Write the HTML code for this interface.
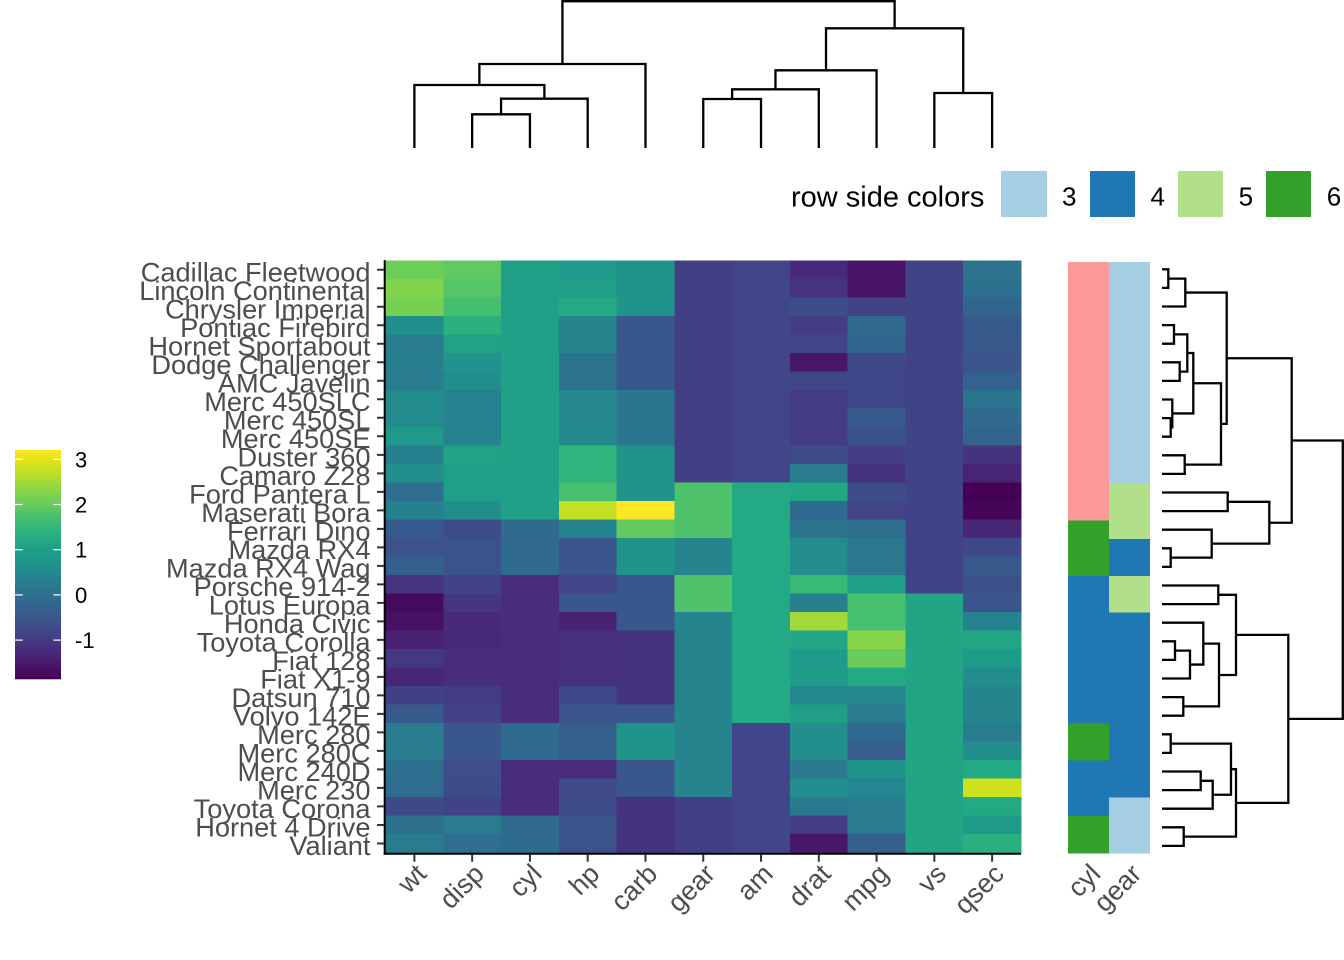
<!DOCTYPE html>
<html><head><meta charset="utf-8">
<style>
html,body{margin:0;padding:0;background:#fff;}
svg{display:block;}
text{font-family:"Liberation Sans",Arial,sans-serif;}
.rl{font-size:27.2px;fill:#4d4d4d;text-anchor:end;}
.cl{font-size:26.9px;fill:#4d4d4d;text-anchor:end;}
.lg{font-size:26px;fill:#000;}
.cb{font-size:22px;fill:#000;}
</style></head><body>
<svg id="s" width="1344" height="960" viewBox="0 0 1344 960" xmlns="http://www.w3.org/2000/svg">
<defs>
<linearGradient id="vg" x1="0" y1="1" x2="0" y2="0">
<stop offset="0" stop-color="#440154"/><stop offset="0.05" stop-color="#471365"/>
<stop offset="0.1" stop-color="#482475"/><stop offset="0.15" stop-color="#463480"/>
<stop offset="0.2" stop-color="#414487"/><stop offset="0.25" stop-color="#3b528b"/>
<stop offset="0.3" stop-color="#355f8d"/><stop offset="0.35" stop-color="#2f6c8e"/>
<stop offset="0.4" stop-color="#2a788e"/><stop offset="0.45" stop-color="#25848e"/>
<stop offset="0.5" stop-color="#21918c"/><stop offset="0.55" stop-color="#1e9c89"/>
<stop offset="0.6" stop-color="#22a884"/><stop offset="0.65" stop-color="#2fb47c"/>
<stop offset="0.7" stop-color="#44bf70"/><stop offset="0.75" stop-color="#5ec962"/>
<stop offset="0.8" stop-color="#7ad151"/><stop offset="0.85" stop-color="#9bd93c"/>
<stop offset="0.9" stop-color="#bddf26"/><stop offset="0.95" stop-color="#dfe318"/>
<stop offset="1" stop-color="#fde725"/>
</linearGradient>
</defs>
<rect width="1344" height="960" fill="#fff"/>
<g id="cells" shape-rendering="crispEdges"></g>
<g id="side" shape-rendering="crispEdges"></g>
<g id="lines"></g>

<!-- colorbar -->
<rect x="15" y="450" width="46" height="229.3" fill="url(#vg)"/>
<g stroke="#fff" stroke-width="1.2">
<line x1="15" y1="459.3" x2="22.7" y2="459.3"/><line x1="53.3" y1="459.3" x2="61" y2="459.3"/>
<line x1="15" y1="504.5" x2="22.7" y2="504.5"/><line x1="53.3" y1="504.5" x2="61" y2="504.5"/>
<line x1="15" y1="549.7" x2="22.7" y2="549.7"/><line x1="53.3" y1="549.7" x2="61" y2="549.7"/>
<line x1="15" y1="594.9" x2="22.7" y2="594.9"/><line x1="53.3" y1="594.9" x2="61" y2="594.9"/>
<line x1="15" y1="640.1" x2="22.7" y2="640.1"/><line x1="53.3" y1="640.1" x2="61" y2="640.1"/>
</g>
<text class="cb" x="75" y="467.3">3</text>
<text class="cb" x="75" y="512.5">2</text>
<text class="cb" x="75" y="557.7">1</text>
<text class="cb" x="75" y="602.9">0</text>
<text class="cb" x="75" y="648.1">-1</text>

<!-- legend -->
<text x="791" y="206.5" style="font-size:29px;fill:#000;">row side colors</text>
<rect x="1001" y="171" width="46" height="46" fill="#a6cee3"/>
<rect x="1090" y="171" width="45" height="46" fill="#1f78b4"/>
<rect x="1178" y="171" width="45" height="46" fill="#b2df8a"/>
<rect x="1266" y="171" width="45" height="46" fill="#33a02c"/>
<text class="lg" x="1062" y="205.5">3</text>
<text class="lg" x="1150.5" y="205.5">4</text>
<text class="lg" x="1238.6" y="205.5">5</text>
<text class="lg" x="1326.8" y="205.5">6</text>

<!-- row labels -->
<text class="rl" x="370.5" y="281.3">Cadillac Fleetwood</text>
<text class="rl" x="370.5" y="299.8">Lincoln Continental</text>
<text class="rl" x="370.5" y="318.3">Chrysler Imperial</text>
<text class="rl" x="370.5" y="336.8">Pontiac Firebird</text>
<text class="rl" x="370.5" y="355.3">Hornet Sportabout</text>
<text class="rl" x="370.5" y="373.8">Dodge Challenger</text>
<text class="rl" x="370.5" y="392.3">AMC Javelin</text>
<text class="rl" x="370.5" y="410.8">Merc 450SLC</text>
<text class="rl" x="370.5" y="429.3">Merc 450SL</text>
<text class="rl" x="370.5" y="447.8">Merc 450SE</text>
<text class="rl" x="370.5" y="466.4">Duster 360</text>
<text class="rl" x="370.5" y="484.9">Camaro Z28</text>
<text class="rl" x="370.5" y="503.4">Ford Pantera L</text>
<text class="rl" x="370.5" y="521.9">Maserati Bora</text>
<text class="rl" x="370.5" y="540.4">Ferrari Dino</text>
<text class="rl" x="370.5" y="558.9">Mazda RX4</text>
<text class="rl" x="370.5" y="577.4">Mazda RX4 Wag</text>
<text class="rl" x="370.5" y="595.9">Porsche 914-2</text>
<text class="rl" x="370.5" y="614.4">Lotus Europa</text>
<text class="rl" x="370.5" y="632.9">Honda Civic</text>
<text class="rl" x="370.5" y="651.5">Toyota Corolla</text>
<text class="rl" x="370.5" y="670.0">Fiat 128</text>
<text class="rl" x="370.5" y="688.5">Fiat X1-9</text>
<text class="rl" x="370.5" y="707.0">Datsun 710</text>
<text class="rl" x="370.5" y="725.5">Volvo 142E</text>
<text class="rl" x="370.5" y="744.0">Merc 280</text>
<text class="rl" x="370.5" y="762.5">Merc 280C</text>
<text class="rl" x="370.5" y="781.0">Merc 240D</text>
<text class="rl" x="370.5" y="799.5">Merc 230</text>
<text class="rl" x="370.5" y="818.0">Toyota Corona</text>
<text class="rl" x="370.5" y="836.6">Hornet 4 Drive</text>
<text class="rl" x="370.5" y="855.1">Valiant</text>

<!-- column labels -->
<text class="cl" x="0" y="19" transform="translate(414.4,862) rotate(-45)">wt</text>
<text class="cl" x="0" y="19" transform="translate(472.1,862) rotate(-45)">disp</text>
<text class="cl" x="0" y="19" transform="translate(529.9,862) rotate(-45)">cyl</text>
<text class="cl" x="0" y="19" transform="translate(587.7,862) rotate(-45)">hp</text>
<text class="cl" x="0" y="19" transform="translate(645.5,862) rotate(-45)">carb</text>
<text class="cl" x="0" y="19" transform="translate(703.2,862) rotate(-45)">gear</text>
<text class="cl" x="0" y="19" transform="translate(761.0,862) rotate(-45)">am</text>
<text class="cl" x="0" y="19" transform="translate(818.8,862) rotate(-45)">drat</text>
<text class="cl" x="0" y="19" transform="translate(876.6,862) rotate(-45)">mpg</text>
<text class="cl" x="0" y="19" transform="translate(934.3,862) rotate(-45)">vs</text>
<text class="cl" x="0" y="19" transform="translate(992.1,862) rotate(-45)">qsec</text>
<text class="cl" x="0" y="19" transform="translate(1088.5,862) rotate(-45)">cyl</text>
<text class="cl" x="0" y="19" transform="translate(1129.5,862) rotate(-45)">gear</text>
</svg>
<script>
(function(){
var NS="http://www.w3.org/2000/svg";
var D={
"Mazda RX4":[21,6,160,110,3.9,2.62,16.46,0,1,4,4],
"Mazda RX4 Wag":[21,6,160,110,3.9,2.875,17.02,0,1,4,4],
"Datsun 710":[22.8,4,108,93,3.85,2.32,18.61,1,1,4,1],
"Hornet 4 Drive":[21.4,6,258,110,3.08,3.215,19.44,1,0,3,1],
"Hornet Sportabout":[18.7,8,360,175,3.15,3.44,17.02,0,0,3,2],
"Valiant":[18.1,6,225,105,2.76,3.46,20.22,1,0,3,1],
"Duster 360":[14.3,8,360,245,3.21,3.57,15.84,0,0,3,4],
"Merc 240D":[24.4,4,146.7,62,3.69,3.19,20,1,0,4,2],
"Merc 230":[22.8,4,140.8,95,3.92,3.15,22.9,1,0,4,2],
"Merc 280":[19.2,6,167.6,123,3.92,3.44,18.3,1,0,4,4],
"Merc 280C":[17.8,6,167.6,123,3.92,3.44,18.9,1,0,4,4],
"Merc 450SE":[16.4,8,275.8,180,3.07,4.07,17.4,0,0,3,3],
"Merc 450SL":[17.3,8,275.8,180,3.07,3.73,17.6,0,0,3,3],
"Merc 450SLC":[15.2,8,275.8,180,3.07,3.78,18,0,0,3,3],
"Cadillac Fleetwood":[10.4,8,472,205,2.93,5.25,17.98,0,0,3,4],
"Lincoln Continental":[10.4,8,460,215,3,5.424,17.82,0,0,3,4],
"Chrysler Imperial":[14.7,8,440,230,3.23,5.345,17.42,0,0,3,4],
"Fiat 128":[32.4,4,78.7,66,4.08,2.2,19.47,1,1,4,1],
"Honda Civic":[30.4,4,75.7,52,4.93,1.615,18.52,1,1,4,2],
"Toyota Corolla":[33.9,4,71.1,65,4.22,1.835,19.9,1,1,4,1],
"Toyota Corona":[21.5,4,120.1,97,3.7,2.465,20.01,1,0,3,1],
"Dodge Challenger":[15.5,8,318,150,2.76,3.52,16.87,0,0,3,2],
"AMC Javelin":[15.2,8,304,150,3.15,3.435,17.3,0,0,3,2],
"Camaro Z28":[13.3,8,350,245,3.73,3.84,15.41,0,0,3,4],
"Pontiac Firebird":[19.2,8,400,175,3.08,3.845,17.05,0,0,3,2],
"Fiat X1-9":[27.3,4,79,66,4.08,1.935,18.9,1,1,4,1],
"Porsche 914-2":[26,4,120.3,91,4.43,2.14,16.7,0,1,5,2],
"Lotus Europa":[30.4,4,95.1,113,3.77,1.513,16.9,1,1,5,2],
"Ford Pantera L":[15.8,8,351,264,4.22,3.17,14.5,0,1,5,4],
"Ferrari Dino":[19.7,6,145,175,3.62,2.77,15.5,0,1,5,6],
"Maserati Bora":[15,8,301,335,3.54,3.57,14.6,0,1,5,8],
"Volvo 142E":[21.4,4,121,109,4.11,2.78,18.6,1,1,4,2]};
var order=["Cadillac Fleetwood","Lincoln Continental","Chrysler Imperial","Pontiac Firebird","Hornet Sportabout","Dodge Challenger","AMC Javelin","Merc 450SLC","Merc 450SL","Merc 450SE","Duster 360","Camaro Z28","Ford Pantera L","Maserati Bora","Ferrari Dino","Mazda RX4","Mazda RX4 Wag","Porsche 914-2","Lotus Europa","Honda Civic","Toyota Corolla","Fiat 128","Fiat X1-9","Datsun 710","Volvo 142E","Merc 280","Merc 280C","Merc 240D","Merc 230","Toyota Corona","Hornet 4 Drive","Valiant"];
var colIdx=[5,2,1,3,10,9,8,4,0,7,6];
var names=Object.keys(D), n=names.length;
var mean=[],sd=[];
for(var k=0;k<11;k++){var s=0;for(var i=0;i<n;i++)s+=D[names[i]][k];var m=s/n;var v=0;for(i=0;i<n;i++){var d=D[names[i]][k]-m;v+=d*d;}mean[k]=m;sd[k]=Math.sqrt(v/(n-1));}
var mn=1e9,mx=-1e9;
for(k=0;k<11;k++)for(i=0;i<n;i++){var z=(D[names[i]][k]-mean[k])/sd[k];if(z<mn)mn=z;if(z>mx)mx=z;}
var V=["#440154","#471365","#482475","#463480","#414487","#3b528b","#355f8d","#2f6c8e","#2a788e","#25848e","#21918c","#1e9c89","#22a884","#2fb47c","#44bf70","#5ec962","#7ad151","#9bd93c","#bddf26","#dfe318","#fde725"];
function hx(c){return [parseInt(c.substr(1,2),16),parseInt(c.substr(3,2),16),parseInt(c.substr(5,2),16)];}
function vir(t){t=Math.max(0,Math.min(1,t));var p=t*20,a=Math.floor(p);if(a>=20)return V[20];var f=p-a,c1=hx(V[a]),c2=hx(V[a+1]);return "rgb("+Math.round(c1[0]+(c2[0]-c1[0])*f)+","+Math.round(c1[1]+(c2[1]-c1[1])*f)+","+Math.round(c1[2]+(c2[2]-c1[2])*f)+")";}
function el(tag,attrs,parent){var e=document.createElementNS(NS,tag);for(var a in attrs)e.setAttribute(a,attrs[a]);parent.appendChild(e);return e;}
var gc=document.getElementById("cells");
var x0=385.5,cw=(1021-385.5)/11,y0=260.5,rh=(852.7-260.5)/32;
for(var r=0;r<32;r++){var row=D[order[r]];for(var c=0;c<11;c++){var kk=colIdx[c];var zz=(row[kk]-mean[kk])/sd[kk];
el("rect",{x:(x0+c*cw).toFixed(2),y:(y0+r*rh).toFixed(2),width:(cw+0.6).toFixed(2),height:(rh+0.6).toFixed(2),fill:vir((zz-mn)/(mx-mn))},gc);}}
var gs=document.getElementById("side");
var ys0=262,sh=(852.7-262)/32;
var cylC={4:"#1f78b4",6:"#33a02c",8:"#fb9a99"},gearC={3:"#a6cee3",4:"#1f78b4",5:"#b2df8a"};
for(r=0;r<32;r++){row=D[order[r]];
el("rect",{x:1068,y:(ys0+r*sh).toFixed(2),width:41.3,height:(sh+0.6).toFixed(2),fill:cylC[row[1]]},gs);
el("rect",{x:1109,y:(ys0+r*sh).toFixed(2),width:41,height:(sh+0.6).toFixed(2),fill:gearC[row[9]]},gs);}
var gl=document.getElementById("lines");
function P(d,col,w){el("path",{d:d,fill:"none",stroke:col||"#000","stroke-width":w||2.3,"stroke-linejoin":"miter","stroke-linecap":"butt"},gl);}
P("M384.7 260 V854.7","#000",2);
P("M383.7 853.7 H1021","#000",2);
var t="";
for(r=0;r<32;r++){var yy=(y0+(r+0.5)*rh).toFixed(2);t+="M377 "+yy+" H384 ";}
for(c=0;c<11;c++){var xx=(x0+(c+0.5)*cw).toFixed(2);t+="M"+xx+" 854.7 V861.7 ";}
P(t,"#333",2);
function cl(i){return {x:x0+(i+0.5)*cw,h:148};}
function cj(a,b,h){P("M"+a.x.toFixed(2)+" "+a.h.toFixed(2)+" V"+h+" H"+b.x.toFixed(2)+" V"+b.h.toFixed(2));return {x:(a.x+b.x)/2,h:h};}
var A=cj(cl(1),cl(2),114.3),B=cj(A,cl(3),98.7),C=cj(cl(0),B,85),Dn=cj(C,cl(4),64);
var E=cj(cl(5),cl(6),99),F=cj(E,cl(7),89.3),G=cj(F,cl(8),70.3),H=cj(cl(9),cl(10),93),I=cj(G,H,28.3);
cj(Dn,I,1.2);
function rl(i){return {y:269.3+18.6*i,x:1162};}
function rj(a,b,x){P("M"+a.x.toFixed(2)+" "+a.y.toFixed(2)+" H"+x+" V"+b.y.toFixed(2)+" H"+b.x.toFixed(2));return {y:(a.y+b.y)/2,x:x};}
var n01=rj(rl(0),rl(1),1168.3),n012=rj(n01,rl(2),1185.3);
var n34=rj(rl(3),rl(4),1174),n56=rj(rl(5),rl(6),1179.7),n36=rj(n34,n56,1187.3);
var n89=rj(rl(8),rl(9),1170.7),n79=rj(rl(7),n89,1172.3),n39=rj(n36,n79,1193.3);
var n1011=rj(rl(10),rl(11),1184.7),n311=rj(n39,n1011,1221),nTop=rj(n012,n311,1226.7);
var n1213=rj(rl(12),rl(13),1227.7),n1516=rj(rl(15),rl(16),1170.7),n1416=rj(rl(14),n1516,1211.7);
var n1216=rj(n1213,n1416,1269.3),nUp=rj(nTop,n1216,1291.7);
var n1718=rj(rl(17),rl(18),1218.3),n2021=rj(rl(20),rl(21),1175),n2022=rj(n2021,rl(22),1190);
var n1922=rj(rl(19),n2022,1203.3),n2324=rj(rl(23),rl(24),1183.3),n1924=rj(n1922,n2324,1219);
var n1724=rj(n1718,n1924,1236);
var n2526=rj(rl(25),rl(26),1170.7),n2728=rj(rl(27),rl(28),1200.7),n2729=rj(n2728,rl(29),1212.7);
var n2529=rj(n2526,n2729,1231),n3031=rj(rl(30),rl(31),1183.7),n2531=rj(n2529,n3031,1236);
var nLow=rj(n1724,n2531,1288.3);
rj(nUp,nLow,1342.8);
})();
</script>
</body></html>
